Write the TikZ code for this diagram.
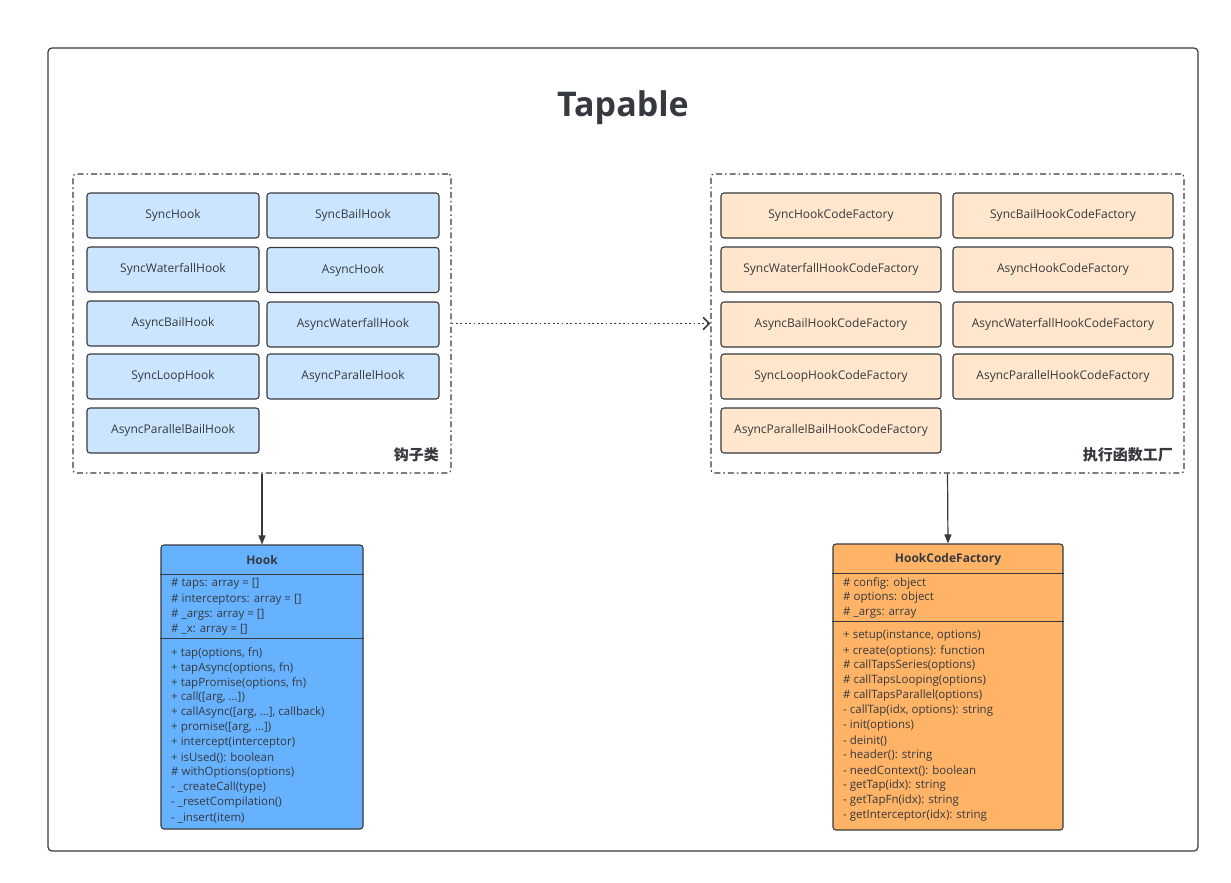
\documentclass[tikz,border=0pt]{standalone}
\usepackage{fontspec}
\setmainfont{Open Sans}
\newfontfamily\cjk{Noto Sans CJK SC}
\usetikzlibrary{arrows.meta}
\definecolor{linec}{HTML}{36393D}
\definecolor{hookfill}{HTML}{CCE5FF}
\definecolor{factfill}{HTML}{FFE6CC}
\definecolor{hookcls}{HTML}{66B2FF}
\definecolor{factcls}{HTML}{FFB366}
\tikzset{
  hookbox/.style={draw=linec, fill=hookfill, rounded corners=3pt, line width=1.1pt,
    minimum width=172pt, minimum height=45pt, text=linec,
    font=\fontsize{12}{14}\selectfont},
  factbox/.style={hookbox, fill=factfill, minimum width=220pt},
  groupbox/.style={draw=linec, line width=1.1pt, rounded corners=3pt,
    dash pattern=on 6pt off 3pt on 1.5pt off 3pt},
  clsbox/.style={draw=linec, line width=1.1pt, rounded corners=3pt},
  clsline/.style={draw=linec, line width=1.1pt},
  member/.style={anchor=west, inner sep=0pt, text=linec,
    font=\fontsize{11.5}{13}\selectfont},
  grouplabel/.style={anchor=east, inner sep=0pt, text=linec,
    font=\cjk\bfseries\fontsize{15}{18}\selectfont},
}
\begin{document}
\begin{tikzpicture}[x=1pt, y=-1pt]
  \useasboundingbox (0,0) rectangle (1231,883);
  \draw[linec, line width=1.2pt, rounded corners=4pt] (48,48) rectangle (1198,851);
  \node[text=linec, font=\bfseries\fontsize{34}{40}\selectfont] (title) at (623,108) {Tapable};

  \node[groupbox, minimum width=378pt, minimum height=299pt] (hooks) at (262,323.5) {};
  \node[groupbox, minimum width=473pt, minimum height=299pt] (factories) at (947.5,323.5) {};
  \node[grouplabel] (hookslabel) at (439,455) {钩子类};
  \node[grouplabel] (factorieslabel) at (1173,455) {执行函数工厂};

  \draw
    (173,215.5) node[hookbox] (h1) {SyncHook}
    (353,215.5) node[hookbox] (h2) {SyncBailHook}
    (173,269.5) node[hookbox] (h3) {SyncWaterfallHook}
    (353,270) node[hookbox] (h4) {AsyncHook}
    (173,323.5) node[hookbox] (h5) {AsyncBailHook}
    (353,324.5) node[hookbox] (h6) {AsyncWaterfallHook}
    (173,376.5) node[hookbox] (h7) {SyncLoopHook}
    (353,376.5) node[hookbox] (h8) {AsyncParallelHook}
    (173,430.5) node[hookbox] (h9) {AsyncParallelBailHook};
  \draw
    (831,215.5) node[factbox] (f1) {SyncHookCodeFactory}
    (1063,215.5) node[factbox] (f2) {SyncBailHookCodeFactory}
    (831,269.5) node[factbox] (f3) {SyncWaterfallHookCodeFactory}
    (1063,269.5) node[factbox] (f4) {AsyncHookCodeFactory}
    (831,324.5) node[factbox] (f5) {AsyncBailHookCodeFactory}
    (1063,324.5) node[factbox] (f6) {AsyncWaterfallHookCodeFactory}
    (831,376.5) node[factbox] (f7) {SyncLoopHookCodeFactory}
    (1063,376.5) node[factbox] (f8) {AsyncParallelHookCodeFactory}
    (831,430.5) node[factbox] (f9) {AsyncParallelBailHookCodeFactory};

  \node[clsbox, fill=hookcls, minimum width=202pt, minimum height=284pt] (hook) at (262,687) {};
  \node[clsbox, fill=factcls, minimum width=230pt, minimum height=286pt] (factory) at (948,687) {};
  \draw[clsline] ([yshift=-30pt]hook.north west) -- ([yshift=-30pt]hook.north east);
  \draw[clsline] ([yshift=-94pt]hook.north west) -- ([yshift=-94pt]hook.north east);
  \draw[clsline] ([yshift=-30pt]factory.north west) -- ([yshift=-30pt]factory.north east);
  \draw[clsline] ([yshift=-78pt]factory.north west) -- ([yshift=-78pt]factory.north east);
  \node[text=linec, font=\bfseries\fontsize{12}{14}\selectfont] (hooktitle) at (262,560) {Hook};
  \node[text=linec, font=\bfseries\fontsize{12}{14}\selectfont] (factorytitle) at (948,559.5) {HookCodeFactory};

  \foreach \t [count=\i] in {{\# taps: array = []}, {\# interceptors: array = []},
      {\# \_args: array = []}, {\# \_x: array = []}}
    \node[member] (hookattr\i) at (171,{584+(\i-1)*15.3}) {\t};
  \foreach \t [count=\i] in {{+ tap(options, fn)}, {+ tapAsync(options, fn)},
      {+ tapPromise(options, fn)}, {+ call([arg, \dots])},
      {+ callAsync([arg, \dots], callback)}, {+ promise([arg, \dots])},
      {+ intercept(interceptor)}, {+ isUsed(): boolean},
      {\# withOptions(options)}, {- \_createCall(type)},
      {- \_resetCompilation()}, {- \_insert(item)}}
    \node[member] (hookop\i) at (171,{653+(\i-1)*15}) {\t};
  \foreach \t [count=\i] in {{\# config: object}, {\# options: object},
      {\# \_args: array}}
    \node[member] (factoryattr\i) at (843,{583+(\i-1)*15}) {\t};
  \foreach \t [count=\i] in {{+ setup(instance, options)}, {+ create(options): function},
      {\# callTapsSeries(options)}, {\# callTapsLooping(options)},
      {\# callTapsParallel(options)}, {- callTap(idx, options): string},
      {- init(options)}, {- deinit()}, {- header(): string},
      {- needContext(): boolean}, {- getTap(idx): string},
      {- getTapFn(idx): string}, {- getInterceptor(idx): string}}
    \node[member] (factoryop\i) at (843,{636+(\i-1)*15}) {\t};

  \draw[linec, line width=1.6pt, dash pattern=on 1.8pt off 2.6pt,
    -{Straight Barb[length=6pt, width=12pt, line cap=round]}]
    (hooks.east) -- (factories.west);
  \draw[linec, line width=1.2pt, -{Triangle[length=9pt, width=7pt]}]
    (hooks.south) -- (hook.north);
  \draw[linec, line width=1.2pt, -{Triangle[length=9pt, width=7pt]}]
    (factories.south) -- (factory.north);
\end{tikzpicture}
\end{document}
